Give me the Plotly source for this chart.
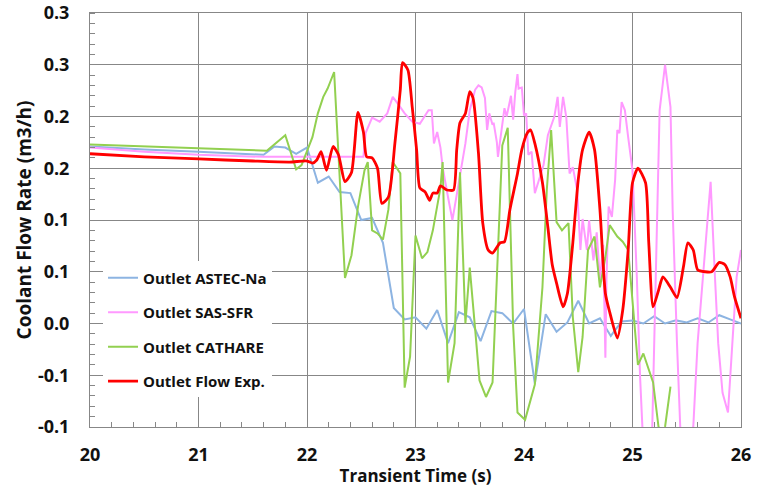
import plotly.graph_objects as go

# ---- ASTEC-Na outlet flow ----
astec_t = [20.0, 20.5, 21.0, 21.5, 21.6, 21.7, 21.8, 21.9, 22.0,
           22.1, 22.2, 22.3, 22.4, 22.5, 22.6, 22.7, 22.8, 22.9, 23.0,
           23.1, 23.2, 23.3, 23.4, 23.5, 23.6, 23.7, 23.8, 23.9, 24.0,
           24.1, 24.2, 24.3, 24.4, 24.5, 24.6, 24.7, 24.8, 24.9, 25.0,
           25.1, 25.2, 25.3, 25.4, 25.5, 25.6, 25.7, 25.8, 25.9, 26.0]
astec_q = [0.171, 0.168, 0.166, 0.164, 0.163, 0.171, 0.170, 0.164, 0.170,
           0.136, 0.142, 0.127, 0.126, 0.100, 0.102, 0.078, 0.015, 0.004, 0.006,
           -0.005, 0.013, -0.019, 0.011, 0.006, -0.017, 0.012, 0.010, 0.000, 0.014,
           -0.058, 0.009, -0.008, 0.001, 0.022, 0.000, 0.005, -0.012, 0.002, 0.003,
           0.000, 0.007, 0.000, 0.003, 0.001, 0.005, 0.001, 0.008, 0.004, 0.000]

# ---- SAS-SFR outlet flow ----
sas_t = [20.00, 20.50, 21.00, 21.60, 22.52, 22.54, 22.60, 22.67, 22.74, 22.79,
         22.84, 22.90, 22.97, 23.04, 23.12, 23.15, 23.17, 23.20, 23.23, 23.25,
         23.30, 23.34, 23.36, 23.41, 23.46, 23.50, 23.55, 23.58, 23.61, 23.64,
         23.66, 23.68, 23.71, 23.72, 23.75, 23.76, 23.79, 23.82, 23.84, 23.88,
         23.90, 23.92, 23.94, 23.95, 23.98, 24.00, 24.02, 24.04, 24.07, 24.10,
         24.13, 24.18, 24.22, 24.28, 24.31, 24.33, 24.36, 24.39, 24.42, 24.45,
         24.49, 24.52, 24.54, 24.58, 24.60, 24.64, 24.67, 24.70, 24.73, 24.75,
         24.76, 24.78, 24.81, 24.84, 24.86, 24.88, 24.90, 24.93, 24.96, 25.00,
         25.01, 25.04, 25.07, 25.10, 25.14, 25.18, 25.25, 25.30, 25.35, 25.37,
         25.41, 25.44, 25.49, 25.56, 25.60, 25.65, 25.69, 25.72, 25.76, 25.79,
         25.83, 25.88, 25.93, 25.96, 26.00]
sas_q = [0.170, 0.166, 0.163, 0.161, 0.161, 0.184, 0.199, 0.195, 0.203, 0.219,
         0.212, 0.203, 0.195, 0.193, 0.206, 0.206, 0.174, 0.185, 0.170, 0.151,
         0.122, 0.100, 0.112, 0.143, 0.174, 0.206, 0.226, 0.230, 0.228, 0.218,
         0.187, 0.203, 0.192, 0.194, 0.175, 0.161, 0.185, 0.208, 0.200, 0.220,
         0.197, 0.224, 0.241, 0.227, 0.228, 0.201, 0.203, 0.163, 0.166, 0.126,
         0.136, 0.153, 0.182, 0.200, 0.219, 0.190, 0.219, 0.199, 0.145, 0.151,
         0.129, 0.071, 0.101, 0.071, 0.100, 0.061, 0.088, 0.042, 0.076, -0.033,
         0.042, 0.113, 0.103, 0.139, 0.187, 0.184, 0.214, 0.206, 0.180, 0.148,
         0.122, 0.045, -0.052, -0.120, -0.145, -0.110, 0.206, 0.250, 0.209, 0.110,
         -0.019, -0.100, -0.150, -0.100, -0.019, 0.045, 0.103, 0.137, 0.045, -0.019,
         -0.067, -0.086, -0.003, 0.045, 0.071]

# ---- CATHARE outlet flow ----
cath_t = [20.00, 20.50, 21.00, 21.63, 21.80, 21.90, 21.95, 22.05, 22.10, 22.15,
          22.19, 22.25, 22.35, 22.41, 22.47, 22.53, 22.56, 22.60, 22.65, 22.70,
          22.75, 22.79, 22.86, 22.90, 22.95, 23.00, 23.06, 23.11, 23.16, 23.23,
          23.25, 23.30, 23.36, 23.41, 23.46, 23.50, 23.55, 23.59, 23.65, 23.71,
          23.75, 23.80, 23.85, 23.90, 23.94, 24.01, 24.10, 24.17, 24.21, 24.25,
          24.30, 24.35, 24.41, 24.45, 24.50, 24.54, 24.59, 24.65, 24.70, 24.75,
          24.79, 24.86, 24.91, 24.96, 25.05, 25.10, 25.19, 25.24, 25.27, 25.30,
          25.35]
cath_q = [0.173, 0.171, 0.169, 0.167, 0.182, 0.149, 0.153, 0.180, 0.203, 0.219,
          0.227, 0.243, 0.044, 0.066, 0.113, 0.148, 0.156, 0.090, 0.087, 0.081,
          0.110, 0.156, 0.145, -0.062, -0.032, 0.085, 0.063, 0.069, 0.090, 0.131,
          0.156, -0.057, -0.019, 0.146, 0.000, 0.054, -0.006, -0.055, -0.071, -0.057,
          0.045, 0.172, 0.189, -0.003, -0.086, -0.093, -0.059, 0.035, 0.129, 0.187,
          0.098, 0.090, 0.097, 0.006, -0.047, -0.013, 0.071, 0.084, 0.035, 0.064,
          0.095, 0.084, 0.079, 0.071, -0.040, -0.029, -0.057, -0.100, -0.115, -0.100,
          -0.061]

# ---- Experimental outlet flow ----
exp_t = [20.00, 20.50, 21.00, 21.50, 21.84, 22.00, 22.05, 22.09, 22.13, 22.18,
         22.24, 22.29, 22.35, 22.41, 22.47, 22.52, 22.55, 22.60, 22.65, 22.69,
         22.75, 22.81, 22.86, 22.88, 22.93, 22.97, 23.01, 23.04, 23.09, 23.13,
         23.16, 23.20, 23.23, 23.29, 23.35, 23.38, 23.41, 23.46, 23.50, 23.53,
         23.58, 23.62, 23.67, 23.71, 23.78, 23.82, 23.87, 23.94, 23.98, 24.03,
         24.06, 24.10, 24.17, 24.22, 24.26, 24.30, 24.36, 24.40, 24.45, 24.50,
         24.54, 24.60, 24.65, 24.70, 24.75, 24.79, 24.86, 24.91, 24.96, 25.00,
         25.05, 25.12, 25.15, 25.19, 25.24, 25.28, 25.35, 25.41, 25.47, 25.51,
         25.56, 25.60, 25.67, 25.73, 25.80, 25.85, 25.90, 25.94, 26.00]
exp_q = [0.164, 0.161, 0.159, 0.157, 0.156, 0.157, 0.155, 0.158, 0.166, 0.148,
         0.171, 0.163, 0.137, 0.146, 0.204, 0.185, 0.161, 0.160, 0.150, 0.116,
         0.122, 0.174, 0.226, 0.252, 0.245, 0.209, 0.168, 0.131, 0.127, 0.119,
         0.126, 0.126, 0.133, 0.129, 0.129, 0.168, 0.194, 0.203, 0.224, 0.218,
         0.165, 0.097, 0.071, 0.068, 0.078, 0.079, 0.110, 0.145, 0.168, 0.184,
         0.187, 0.174, 0.136, 0.093, 0.057, 0.039, 0.016, 0.029, 0.078, 0.139,
         0.168, 0.185, 0.168, 0.110, 0.029, 0.011, -0.014, 0.013, 0.071, 0.136,
         0.150, 0.136, 0.078, 0.016, 0.032, 0.045, 0.035, 0.025, 0.055, 0.078,
         0.071, 0.052, 0.050, 0.050, 0.059, 0.057, 0.045, 0.026, 0.005]

y_ticks = [-0.1, -0.05, 0.0, 0.05, 0.1, 0.15, 0.2, 0.25, 0.3]
y_tick_text = ["-0.1", "-0.1", "0.0", "0.1", "0.1", "0.2", "0.2", "0.3", "0.3"]

FONT = "Open Sans"
GRID = "#878787"

fig = go.Figure()
series = [
    ("Outlet ASTEC-Na", astec_t, astec_q, "#8db4e2", 2, "linear"),
    ("Outlet SAS-SFR", sas_t, sas_q, "#ff99ff", 2, "linear"),
    ("Outlet CATHARE", cath_t, cath_q, "#92d050", 2, "linear"),
    ("Outlet Flow Exp.", exp_t, exp_q, "#ff0000", 2.8, "spline"),
]
for name, t, q, color, width, shape in series:
    fig.add_trace(go.Scatter(
        x=t, y=q, name=name, mode="lines", legendgroup=name,
        line=dict(color=color, width=width, shape=shape, smoothing=0.6),
    ))

fig.update_layout(
    width=764, height=487,
    margin=dict(l=90, r=23, t=13, b=60),
    paper_bgcolor="white", plot_bgcolor="white",
    font=dict(family=FONT, color="#111111"),
    showlegend=True,
    legend=dict(
        x=0.02, y=0.40, xanchor="left", yanchor="top",
        bgcolor="white", borderwidth=0,
        font=dict(family=FONT, size=15, weight="bold", color="#111111"),
        tracegroupgap=12, itemwidth=30,
    ),
)
fig.update_xaxes(
    range=[20, 26], tick0=20, dtick=1, autorange=False,
    showgrid=True, gridcolor=GRID, gridwidth=1,
    showline=True, linecolor=GRID, linewidth=1, mirror=True,
    ticks="", zeroline=False,
    minor=dict(dtick=0.2, ticks="inside", ticklen=5, tickcolor=GRID, showgrid=False),
    tickfont=dict(family=FONT, size=18, weight="bold"),
    ticklabelstandoff=11,
    title=dict(text="Transient Time (s)", standoff=1,
               font=dict(family=FONT, size=17, weight="bold")),
    automargin=False,
)
fig.update_yaxes(
    range=[-0.1, 0.3], autorange=False,
    tickvals=y_ticks, ticktext=y_tick_text,
    showgrid=True, gridcolor=GRID, gridwidth=1,
    showline=True, linecolor=GRID, linewidth=1, mirror=True,
    ticks="", zeroline=False,
    minor=dict(dtick=0.01, tick0=0, ticks="inside", ticklen=5, tickcolor=GRID, showgrid=False),
    tickfont=dict(family=FONT, size=18, weight="bold"),
    ticklabelstandoff=16,
    title=dict(text="Coolant Flow Rate (m3/h)", standoff=1,
               font=dict(family=FONT, size=19, weight="bold")),
    automargin=False,
)

fig.write_html("out.html")
